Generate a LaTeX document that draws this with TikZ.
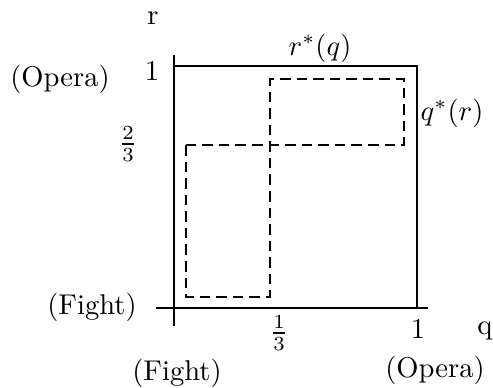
\documentclass[tikz,border=0pt]{standalone}
\begin{document}
\begin{tikzpicture}[x=0.35pt, y=-0.35pt,
    axis/.style={line width=1pt},
    resp/.style={line width=0.9pt, dash pattern=on 3.7pt off 2.1pt},
    lbl/.style={inner sep=0pt}]
  \useasboundingbox (0,0) rectangle (493,387);
  % axes and the response r*(q)
  \draw[axis] (174,55) -- (174,326);
  \draw[axis] (156,308) -- (428,308);
  \draw[axis] (174,66) -- (417,66) -- (417,308);
  % the response q*(r)
  \draw[resp] (186,145) -- (186,297) -- (270,297) -- (270,79)
    -- (404,79) -- (404,145) -- cycle;
  % labels
  \node[lbl] (rlab)    at (153,18)  {r};
  \node[lbl] (qlab)    at (485,331) {q};
  \node[lbl] (rone)    at (152,71)  {1};
  \node[lbl] (qone)    at (418,329) {1};
  \node[lbl] (rtwo)    at (128,144) {$\frac{2}{3}$};
  \node[lbl] (qthird)  at (279,333) {$\frac{1}{3}$};
  \node[lbl] (ropera)  at (60,79)   {(Opera)};
  \node[lbl] (rfight)  at (92,307)  {(Fight)};
  \node[lbl] (qfight)  at (177,373) {(Fight)};
  \node[lbl] (qopera)  at (435,370) {(Opera)};
  \node[lbl] (rstar)   at (320,48)  {$r^*(q)$};
  \node[lbl] (qstar)   at (452,113) {$q^*(r)$};
\end{tikzpicture}
\end{document}
